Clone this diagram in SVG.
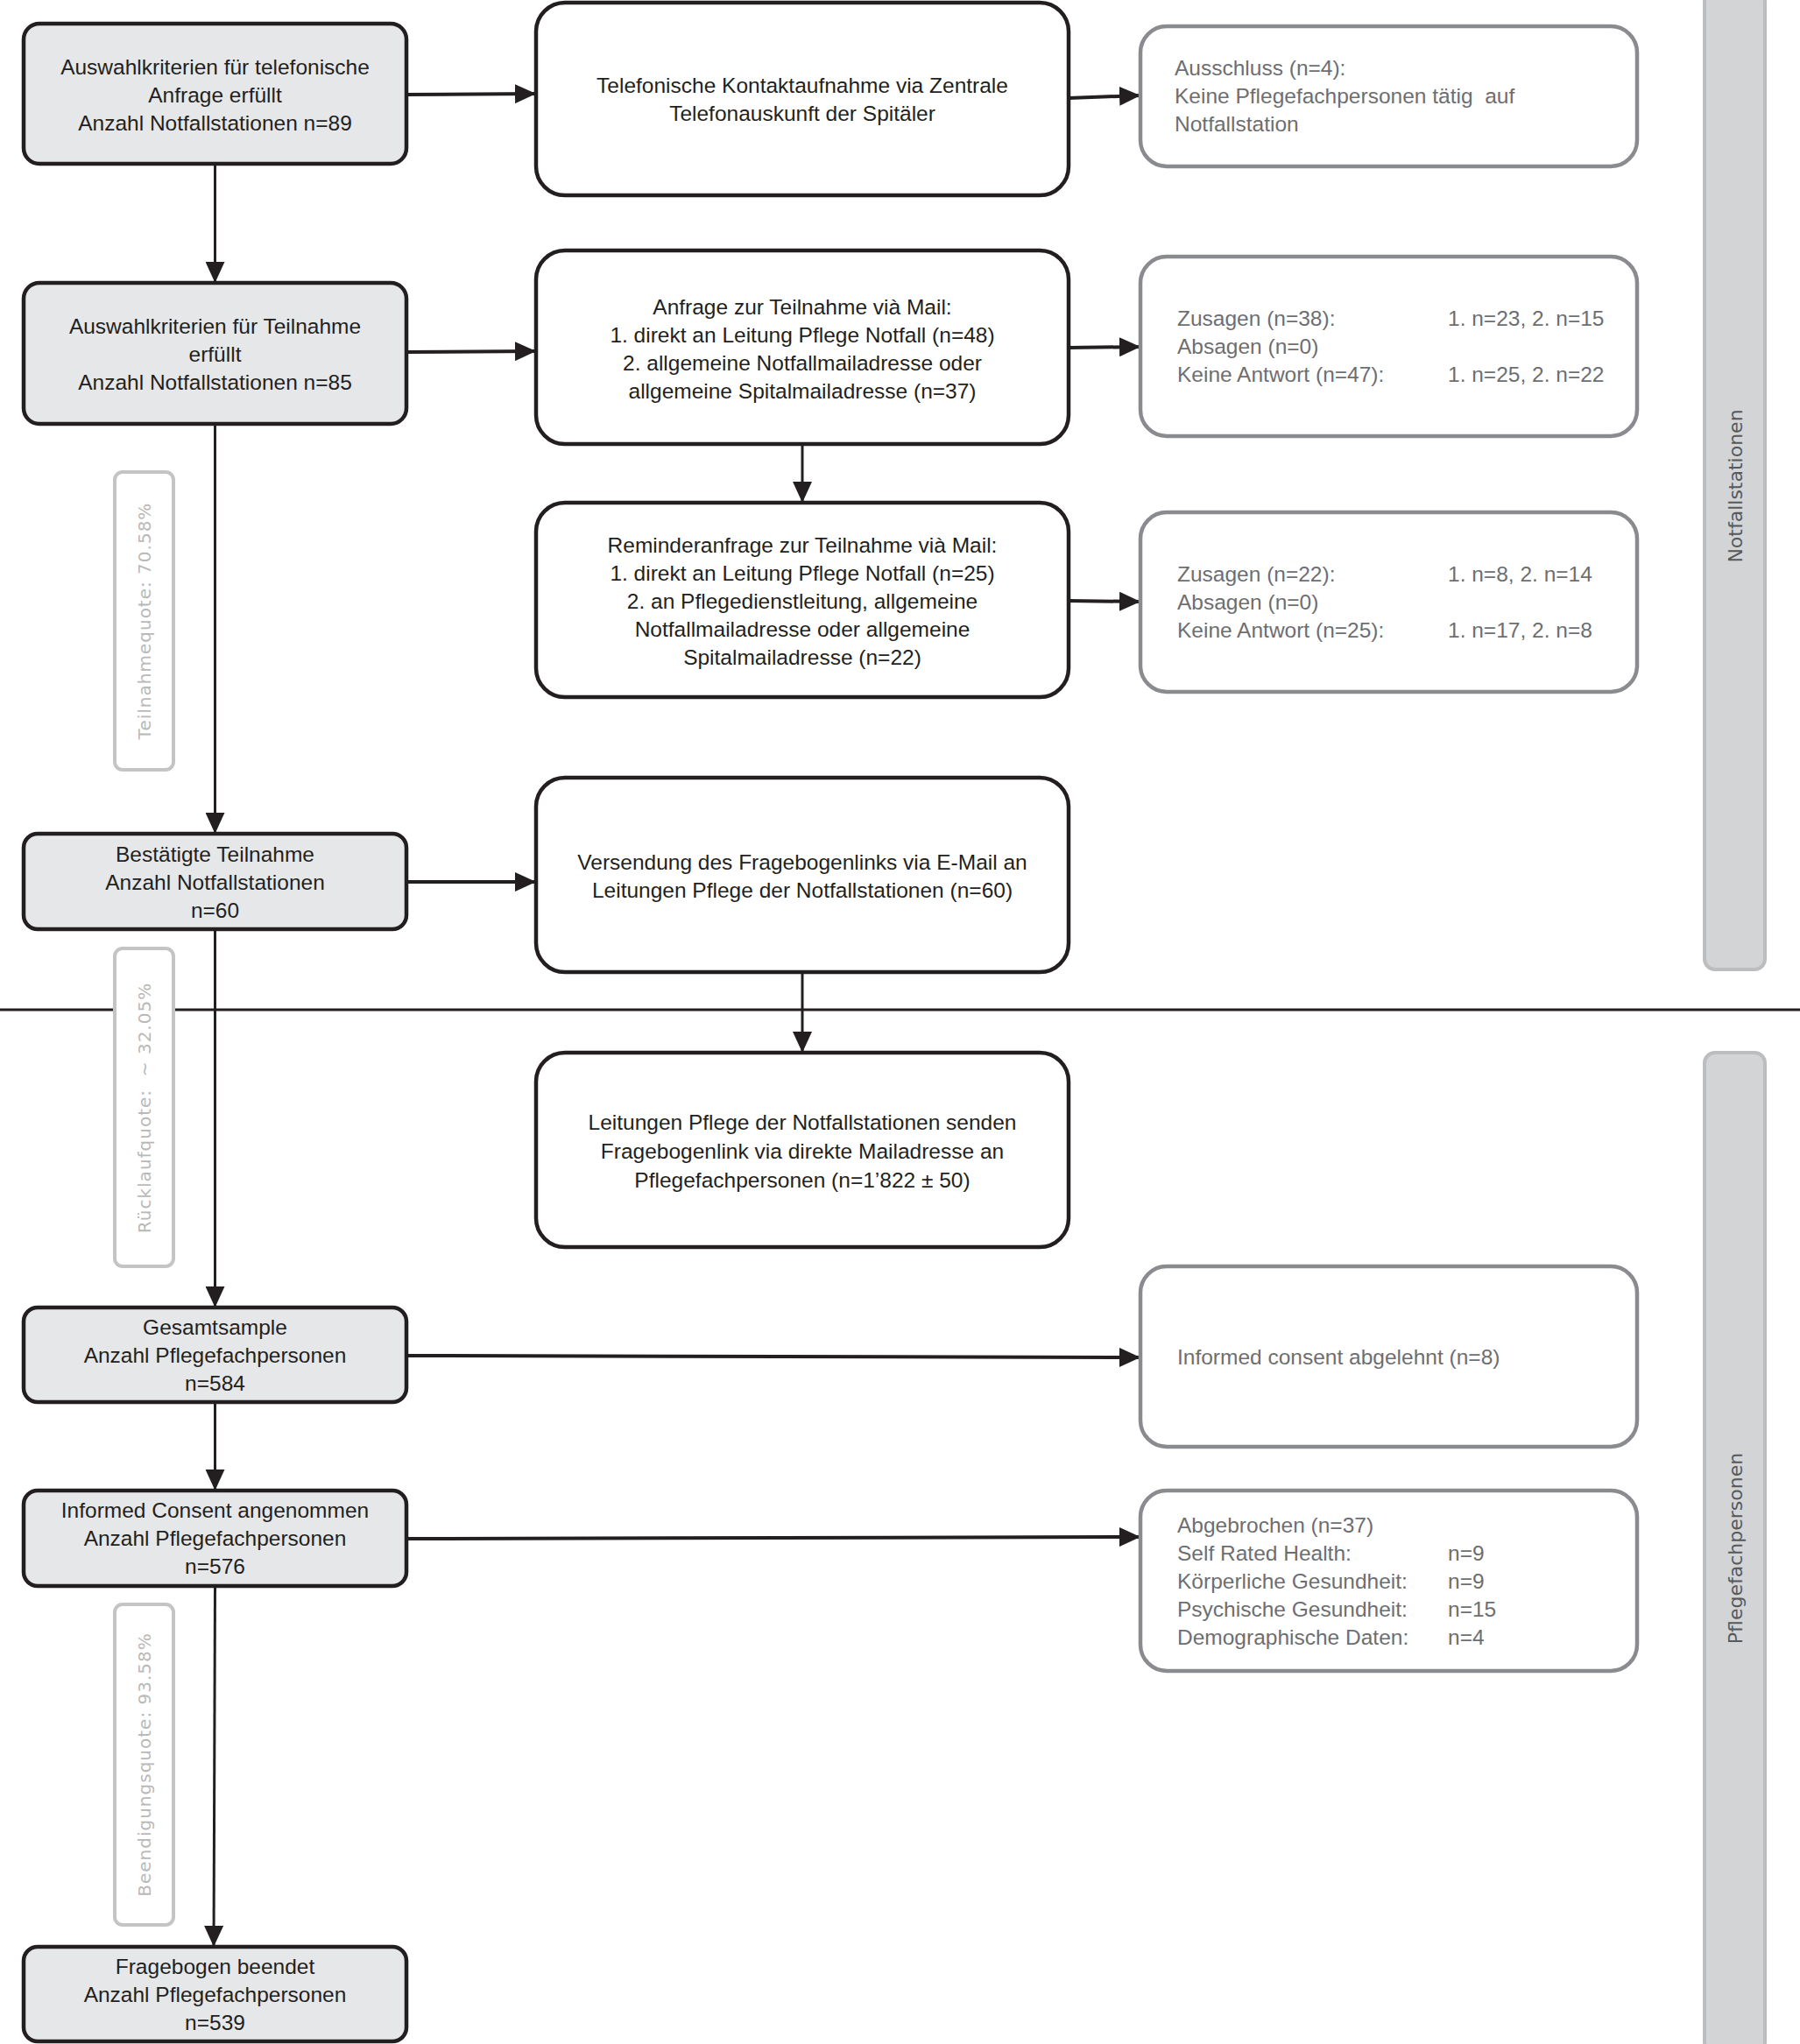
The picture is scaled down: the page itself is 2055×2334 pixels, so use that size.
<svg xmlns="http://www.w3.org/2000/svg" width="2055" height="2334" viewBox="0 0 2055 2334">
<defs>
<marker id="ah" viewBox="0 0 24 22" refX="24" refY="11" markerWidth="24" markerHeight="22" markerUnits="userSpaceOnUse" orient="auto">
<path d="M0,0 L24,11 L0,22 z" fill="#231f20"/>
</marker>
</defs>
<style>
.lbox{fill:#e6e7e9;stroke:#231f20;stroke-width:4.5}
.mbox{fill:#ffffff;stroke:#231f20;stroke-width:4.5}
.rbox{fill:#ffffff;stroke:#8a8b8e;stroke-width:4.5}
.qbox{fill:#ffffff;stroke:#c4c4c4;stroke-width:4}
.side{fill:#d3d4d6;stroke:#bcbdbf;stroke-width:4}
.t{font-family:"Liberation Sans",Arial,sans-serif;font-size:24.5px;fill:#231f20;text-anchor:middle}
.g{font-family:"Liberation Sans",Arial,sans-serif;font-size:24.5px;fill:#6d6e71}
.q{font-family:"DejaVu Sans",Verdana,sans-serif;font-size:20px;letter-spacing:1px;fill:#b9b9b9;text-anchor:middle}
.s{font-family:"DejaVu Sans",Verdana,sans-serif;font-size:22px;fill:#58595b;text-anchor:middle}
.ch{fill:none;stroke:#231f20;stroke-width:4;marker-end:url(#ah)}
.cv{fill:none;stroke:#231f20;stroke-width:3;marker-end:url(#ah)}
</style>
<rect width="2055" height="2334" fill="#ffffff"/>

<g id="side-notfall">
<rect class="side" x="1946" y="-10" width="69" height="1117" rx="12"/>
<text class="s" transform="translate(1981,555) rotate(-90)" x="0" y="8">Notfallstationen</text>
</g>
<g id="side-pflege">
<rect class="side" x="1946" y="1202" width="69" height="1142" rx="12"/>
<text class="s" transform="translate(1981,1768) rotate(-90)" x="0" y="8">Pflegefachpersonen</text>
</g>

<g id="divider">
<line x1="0" y1="1153" x2="2055" y2="1153" stroke="#231f20" stroke-width="3"/>
</g>

<g id="connectors">
<line class="ch" x1="464" y1="108" x2="612" y2="107"/>
<line class="ch" x1="1220" y1="112" x2="1302" y2="109"/>
<line class="cv" x1="245.5" y1="187" x2="245.5" y2="323"/>
<line class="ch" x1="464" y1="402" x2="612" y2="401"/>
<line class="ch" x1="1220" y1="397" x2="1302" y2="396"/>
<line class="cv" x1="916" y1="507" x2="916" y2="574"/>
<line class="ch" x1="1220" y1="686" x2="1302" y2="687"/>
<line class="cv" x1="245.5" y1="484" x2="245.5" y2="952"/>
<line class="ch" x1="464" y1="1007" x2="612" y2="1007"/>
<line class="cv" x1="916" y1="1110" x2="916" y2="1202"/>
<line class="cv" x1="245.5" y1="1061" x2="245.5" y2="1493"/>
<line class="ch" x1="464" y1="1548" x2="1302" y2="1550"/>
<line class="cv" x1="245.5" y1="1601" x2="245.5" y2="1702"/>
<line class="ch" x1="464" y1="1757" x2="1302" y2="1755"/>
<line class="cv" x1="245.5" y1="1811" x2="244" y2="2223"/>
</g>

<g id="q1">
<rect class="qbox" x="131" y="539" width="67" height="340" rx="9"/>
<text class="q" transform="translate(165,709) rotate(-90)" x="0" y="7">Teilnahmequote: 70.58%</text>
</g>
<g id="q2">
<rect class="qbox" x="131" y="1083" width="67" height="363" rx="9"/>
<text class="q" transform="translate(165,1265) rotate(-90)" x="0" y="7" xml:space="preserve">Rücklaufquote:  ~ 32.05%</text>
</g>
<g id="q3">
<rect class="qbox" x="131" y="1832" width="67" height="366" rx="9"/>
<text class="q" transform="translate(165,2015) rotate(-90)" x="0" y="7">Beendigungsquote: 93.58%</text>
</g>

<g id="l1">
<rect class="lbox" x="27" y="27" width="437" height="160" rx="18"/>
<text class="t"><tspan x="245.5" y="85">Auswahlkriterien für telefonische</tspan><tspan x="245.5" y="117">Anfrage erfüllt</tspan><tspan x="245.5" y="149">Anzahl Notfallstationen n=89</tspan></text>
</g>
<g id="l2">
<rect class="lbox" x="27" y="323" width="437" height="161" rx="18"/>
<text class="t"><tspan x="245.5" y="381">Auswahlkriterien für Teilnahme</tspan><tspan x="245.5" y="413">erfüllt</tspan><tspan x="245.5" y="445">Anzahl Notfallstationen n=85</tspan></text>
</g>
<g id="l3">
<rect class="lbox" x="27" y="952" width="437" height="109" rx="16"/>
<text class="t"><tspan x="245.5" y="984">Bestätigte Teilnahme</tspan><tspan x="245.5" y="1016">Anzahl Notfallstationen</tspan><tspan x="245.5" y="1048">n=60</tspan></text>
</g>
<g id="l4">
<rect class="lbox" x="27" y="1493" width="437" height="108" rx="16"/>
<text class="t"><tspan x="245.5" y="1524">Gesamtsample</tspan><tspan x="245.5" y="1556">Anzahl Pflegefachpersonen</tspan><tspan x="245.5" y="1588">n=584</tspan></text>
</g>
<g id="l5">
<rect class="lbox" x="27" y="1702" width="437" height="109" rx="16"/>
<text class="t"><tspan x="245.5" y="1733">Informed Consent angenommen</tspan><tspan x="245.5" y="1765">Anzahl Pflegefachpersonen</tspan><tspan x="245.5" y="1797">n=576</tspan></text>
</g>
<g id="l6">
<rect class="lbox" x="27" y="2223" width="437" height="108" rx="16"/>
<text class="t"><tspan x="245.5" y="2254">Fragebogen beendet</tspan><tspan x="245.5" y="2286">Anzahl Pflegefachpersonen</tspan><tspan x="245.5" y="2318">n=539</tspan></text>
</g>

<g id="m1">
<rect class="mbox" x="612" y="3" width="608" height="220" rx="33"/>
<text class="t"><tspan x="916" y="106">Telefonische Kontaktaufnahme via Zentrale</tspan><tspan x="916" y="138">Telefonauskunft der Spitäler</tspan></text>
</g>
<g id="m2">
<rect class="mbox" x="612" y="286" width="608" height="221" rx="33"/>
<text class="t"><tspan x="916" y="359">Anfrage zur Teilnahme vià Mail:</tspan><tspan x="916" y="391">1. direkt an Leitung Pflege Notfall (n=48)</tspan><tspan x="916" y="423">2. allgemeine Notfallmailadresse oder</tspan><tspan x="916" y="455">allgemeine Spitalmailadresse (n=37)</tspan></text>
</g>
<g id="m3">
<rect class="mbox" x="612" y="574" width="608" height="222" rx="33"/>
<text class="t"><tspan x="916" y="631">Reminderanfrage zur Teilnahme vià Mail:</tspan><tspan x="916" y="663">1. direkt an Leitung Pflege Notfall (n=25)</tspan><tspan x="916" y="695">2. an Pflegedienstleitung, allgemeine</tspan><tspan x="916" y="727">Notfallmailadresse oder allgemeine</tspan><tspan x="916" y="759">Spitalmailadresse (n=22)</tspan></text>
</g>
<g id="m4">
<rect class="mbox" x="612" y="888" width="608" height="222" rx="33"/>
<text class="t"><tspan x="916" y="993">Versendung des Fragebogenlinks via E-Mail an</tspan><tspan x="916" y="1025">Leitungen Pflege der Notfallstationen (n=60)</tspan></text>
</g>
<g id="m5">
<rect class="mbox" x="612" y="1202" width="608" height="222" rx="33"/>
<text class="t"><tspan x="916" y="1290">Leitungen Pflege der Notfallstationen senden</tspan><tspan x="916" y="1323">Fragebogenlink via direkte Mailadresse an</tspan><tspan x="916" y="1356">Pflegefachpersonen (n=1’822 ± 50)</tspan></text>
</g>

<g id="r1">
<rect class="rbox" x="1302" y="30" width="567" height="160" rx="30"/>
<text class="g" xml:space="preserve"><tspan x="1341" y="86">Ausschluss (n=4):</tspan><tspan x="1341" y="118">Keine Pflegefachpersonen tätig  auf</tspan><tspan x="1341" y="150">Notfallstation</tspan></text>
</g>
<g id="r2">
<rect class="rbox" x="1302" y="293" width="567" height="205" rx="30"/>
<text class="g"><tspan x="1344" y="372">Zusagen (n=38):</tspan><tspan x="1344" y="404">Absagen (n=0)</tspan><tspan x="1344" y="436">Keine Antwort (n=47):</tspan></text>
<text class="g"><tspan x="1653" y="372">1. n=23, 2. n=15</tspan><tspan x="1653" y="436">1. n=25, 2. n=22</tspan></text>
</g>
<g id="r3">
<rect class="rbox" x="1302" y="585" width="567" height="205" rx="30"/>
<text class="g"><tspan x="1344" y="664">Zusagen (n=22):</tspan><tspan x="1344" y="696">Absagen (n=0)</tspan><tspan x="1344" y="728">Keine Antwort (n=25):</tspan></text>
<text class="g"><tspan x="1653" y="664">1. n=8, 2. n=14</tspan><tspan x="1653" y="728">1. n=17, 2. n=8</tspan></text>
</g>
<g id="r4">
<rect class="rbox" x="1302" y="1446" width="567" height="206" rx="30"/>
<text class="g" x="1344" y="1558">Informed consent abgelehnt (n=8)</text>
</g>
<g id="r5">
<rect class="rbox" x="1302" y="1702" width="567" height="206" rx="30"/>
<text class="g"><tspan x="1344" y="1750">Abgebrochen (n=37)</tspan><tspan x="1344" y="1782">Self Rated Health:</tspan><tspan x="1344" y="1814">Körperliche Gesundheit:</tspan><tspan x="1344" y="1846">Psychische Gesundheit:</tspan><tspan x="1344" y="1878">Demographische Daten:</tspan></text>
<text class="g"><tspan x="1653" y="1782">n=9</tspan><tspan x="1653" y="1814">n=9</tspan><tspan x="1653" y="1846">n=15</tspan><tspan x="1653" y="1878">n=4</tspan></text>
</g>
</svg>
